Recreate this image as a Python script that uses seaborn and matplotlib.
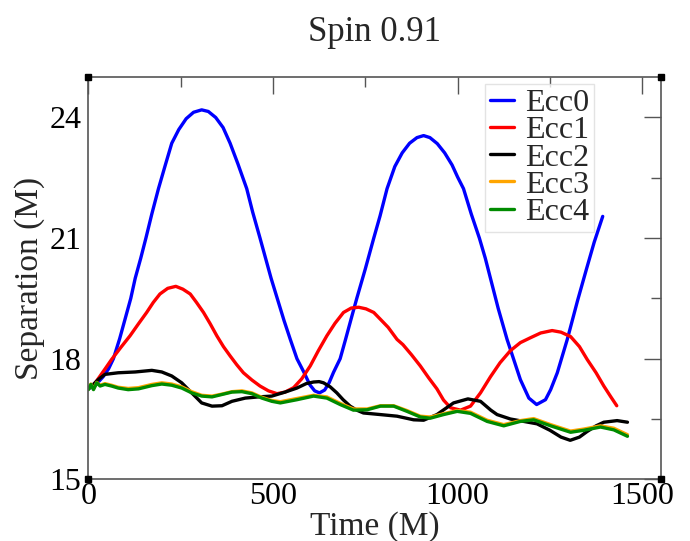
import matplotlib
matplotlib.use("Agg")
import matplotlib.pyplot as plt
import seaborn as sns
import pandas as pd

# ---- data ----
ecc0_t = [0, 20, 40, 55, 68, 85, 100, 115, 127, 142, 156, 172, 190, 208, 226, 245, 265, 285, 307, 325,
          345, 365, 384, 405, 429, 445, 465, 480, 495, 515, 530, 547, 565, 584, 600, 613, 626, 640, 652,
          664, 682, 696, 712, 727, 750, 773, 790, 809, 830, 850, 870, 890, 908, 925, 945, 965, 985, 1000,
          1016, 1037, 1059, 1075, 1089, 1110, 1134, 1152, 1170, 1193, 1214, 1238, 1252, 1270, 1297, 1325,
          1349, 1370, 1393]
ecc0_r = [17.25, 17.35, 17.55, 17.75, 18.0, 18.5, 19.0, 19.5, 20.0, 20.5, 21.0, 21.6, 22.23, 22.8, 23.36,
          23.7, 23.97, 24.13, 24.19, 24.15, 24.0, 23.75, 23.36, 22.85, 22.23, 21.65, 21.0, 20.5, 20.0, 19.4,
          18.95, 18.48, 18.0, 17.66, 17.35, 17.2, 17.15, 17.22, 17.4, 17.66, 18.0, 18.46, 19.0, 19.5, 20.23,
          21.0, 21.55, 22.23, 22.78, 23.12, 23.36, 23.5, 23.55, 23.5, 23.35, 23.12, 22.82, 22.52, 22.23,
          21.6, 21.0, 20.5, 20.0, 19.25, 18.48, 17.98, 17.48, 17.02, 16.86, 16.98, 17.23, 17.65, 18.48,
          19.45, 20.23, 20.9, 21.54]

ecc1_t = [15, 32, 48, 63, 88, 113, 136, 158, 176, 194, 215, 237, 256, 276, 293, 312, 330, 348, 366, 384,
          402, 420, 443, 465, 488, 511, 533, 556, 578, 601, 623, 646, 668, 691, 712, 732, 752, 773, 791, 812,
          836, 852, 875, 899, 922, 944, 962, 981, 1008, 1035, 1062, 1089, 1115, 1143, 1170, 1197, 1225, 1256,
          1280, 1306, 1330, 1351, 1375, 1396, 1415, 1431]
ecc1_r = [17.35, 17.57, 17.78, 17.98, 18.28, 18.57, 18.87, 19.15, 19.4, 19.61, 19.75, 19.8, 19.73, 19.61,
          19.4, 19.15, 18.87, 18.57, 18.3, 18.07, 17.85, 17.65, 17.47, 17.32, 17.2, 17.13, 17.17, 17.28,
          17.5, 17.82, 18.2, 18.57, 18.88, 19.15, 19.26, 19.28, 19.24, 19.15, 18.98, 18.78, 18.48, 18.35,
          18.1, 17.82, 17.52, 17.25, 16.97, 16.78, 16.72, 16.82, 17.15, 17.55, 17.9, 18.2, 18.4, 18.52,
          18.64, 18.7, 18.66, 18.55, 18.3, 17.98, 17.65, 17.32, 17.05, 16.83]

ecc2_t = [0, 9, 27, 45, 81, 127, 172, 199, 226, 253, 280, 307, 335, 362, 389, 425, 461, 497, 533, 565,
          590, 610, 625, 637, 655, 673, 690, 709, 727, 745, 791, 836, 881, 908, 944, 989, 1028, 1062, 1090,
          1107, 1143, 1179, 1215, 1250, 1280, 1305, 1330, 1351, 1375, 1396, 1432, 1460]
ecc2_r = [17.25, 17.32, 17.48, 17.61, 17.65, 17.67, 17.71, 17.67, 17.57, 17.4, 17.15, 16.9, 16.82, 16.83,
          16.94, 17.02, 17.05, 17.07, 17.17, 17.27, 17.38, 17.42, 17.43, 17.4, 17.3, 17.15, 16.98, 16.82,
          16.72, 16.65, 16.61, 16.57, 16.48, 16.47, 16.61, 16.9, 17.0, 16.94, 16.72, 16.61, 16.5, 16.44,
          16.38, 16.22, 16.05, 15.97, 16.05, 16.19, 16.33, 16.42, 16.46, 16.42]

ecc4_t = [0, 7, 14, 23, 32, 45, 63, 81, 108, 136, 172, 199, 226, 253, 280, 307, 335, 362, 389, 416, 443,
          470, 497, 520, 565, 610, 646, 682, 718, 755, 791, 827, 863, 899, 926, 962, 999, 1035, 1062, 1080,
          1125, 1170, 1206, 1252, 1306, 1342, 1387, 1423, 1460]
ecc4_r = [17.23, 17.36, 17.23, 17.4, 17.32, 17.36, 17.32, 17.27, 17.23, 17.25, 17.33, 17.37, 17.34, 17.27,
          17.15, 17.07, 17.05, 17.11, 17.17, 17.18, 17.13, 17.02, 16.94, 16.9, 16.98, 17.07, 17.02, 16.86,
          16.72, 16.73, 16.82, 16.82, 16.69, 16.55, 16.52, 16.61, 16.69, 16.64, 16.52, 16.44, 16.33, 16.44,
          16.48, 16.33, 16.17, 16.22, 16.3, 16.23, 16.07]

ecc3_t = ecc4_t
ecc3_r = [17.24, 17.37, 17.25, 17.41, 17.34, 17.38, 17.34, 17.29, 17.26, 17.28, 17.36, 17.4, 17.37, 17.3,
          17.18, 17.09, 17.07, 17.12, 17.18, 17.2, 17.15, 17.04, 16.96, 16.93, 17.01, 17.09, 17.05, 16.89,
          16.75, 16.75, 16.83, 16.83, 16.71, 16.57, 16.55, 16.63, 16.71, 16.67, 16.55, 16.47, 16.36, 16.46,
          16.51, 16.36, 16.2, 16.25, 16.33, 16.27, 16.11]

labels = ["Ecc0", "Ecc1", "Ecc2", "Ecc3", "Ecc4"]
colors = ["#0000ff", "#ff0000", "#000000", "#ffa500", "#008b00"]
title = "Spin 0.91"
xlabel = "Time (M)"
ylabel = "Separation (M)"
xticks = [0, 500, 1000, 1500]
yticks = [15, 18, 21, 24]

# ---- build long table ----
frames = []
for lab, t, r in zip(labels, [ecc0_t, ecc1_t, ecc2_t, ecc3_t, ecc4_t],
                     [ecc0_r, ecc1_r, ecc2_r, ecc3_r, ecc4_r]):
    frames.append(pd.DataFrame({"Time": t, "Sep": r, "Run": lab}))
df = pd.concat(frames, ignore_index=True)

sns.set_style("white")
plt.rcParams["font.family"] = ["Liberation Serif", "DejaVu Serif"]

fig = plt.figure(figsize=(6.9, 5.41), dpi=100)
ax = fig.add_axes([88.3 / 690, 1 - 479.3 / 541, 572.4 / 690, 402 / 541])

sns.lineplot(data=df, x="Time", y="Sep", hue="Run", palette=dict(zip(labels, colors)),
             hue_order=labels, estimator=None, sort=False, linewidth=2.4, ax=ax, legend=False,
             solid_joinstyle="round", solid_capstyle="round")

ax.set_xlim(0, 1550)
ax.set_ylim(15, 25)
ax.set_xticks(xticks)
ax.set_yticks(yticks)
ax.set_xticks([250, 750, 1250], minor=True)
ax.set_yticks([16.5, 19.5, 22.5], minor=True)
ax.tick_params(which="both", direction="in", top=True, right=True, colors="#555555",
               labelcolor="black", labelsize=23, width=1.0)
ax.tick_params(which="major", length=12)
ax.tick_params(which="minor", length=7)
ax.tick_params(axis="x", pad=2)
ax.tick_params(axis="y", pad=5)
for s in ax.spines.values():
    s.set_color("#555555")
    s.set_linewidth(1.2)

ax.set_xlabel(xlabel, fontsize=24, labelpad=0)
ax.set_ylabel(ylabel, fontsize=24, labelpad=3)
ax.set_title(title, fontsize=25, pad=26)

# corner markers
ax.plot([0, 1, 0, 1], [0, 0, 1, 1], "s", transform=ax.transAxes, clip_on=False,
        ms=4, color="black", zorder=5)

handles = [plt.Line2D([], [], color=c, lw=2.4) for c in colors]
leg = ax.legend(handles, labels, loc="upper right", bbox_to_anchor=(0.8835, 0.983),
                borderaxespad=0, fontsize=23, frameon=True, fancybox=False,
                handlelength=0.75, handletextpad=0.35, labelspacing=-0.07,
                borderpad=0.15, edgecolor="#dddddd")
leg.get_frame().set_linewidth(1.0)

fig.savefig("out.png", dpi=100)
